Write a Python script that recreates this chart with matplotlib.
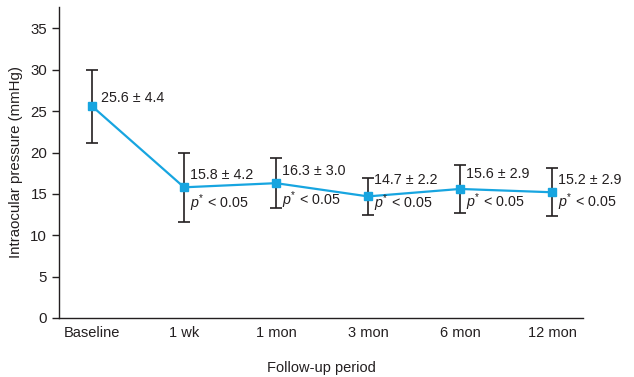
import matplotlib
matplotlib.use("Agg")
import matplotlib.pyplot as plt

plt.rcParams['font.family'] = ['Liberation Sans', 'DejaVu Sans']
plt.rcParams['mathtext.fontset'] = 'custom'
plt.rcParams['mathtext.it'] = 'Liberation Sans:italic'
plt.rcParams['mathtext.rm'] = 'Liberation Sans'

categories = ["Baseline", "1 wk", "1 mon", "3 mon", "6 mon", "12 mon"]
means = [25.6, 15.8, 16.3, 14.7, 15.6, 15.2]
sds = [4.4, 4.2, 3.0, 2.2, 2.9, 2.9]
show_p = [False, True, True, True, True, True]
p_text = r"$p^{*}$ < 0.05"

line_color = "#17a5e0"
err_color = "#231f20"

fig = plt.figure(figsize=(6.34, 3.77), dpi=100)
ax = fig.add_axes([0.093, 0.1565, 0.827, 0.825])

x = list(range(len(categories)))
ax.errorbar(x, means, yerr=sds, fmt='none', ecolor=err_color, elinewidth=1.2,
            capsize=4, capthick=1.2, zorder=2)
ax.plot(x, means, color=line_color, lw=1.6, marker='s', markersize=6,
        markerfacecolor=line_color, markeredgecolor=line_color, zorder=3)

mean_y = [26.6, 17.3, 17.8, 16.7, 17.4, 16.7]
p_y = [None, 13.9, 14.2, 13.9, 14.0, 14.0]
dx = [0.1, 0.06, 0.06, 0.06, 0.06, 0.06]
for i in x:
    ax.text(i + dx[i], mean_y[i], f"{means[i]} ± {sds[i]}", fontsize=10.3,
            va='center', ha='left', color='#231f20')
    if show_p[i]:
        ax.text(i + dx[i], p_y[i], p_text, fontsize=10.3, va='center', ha='left',
                color='#231f20')

ax.set_xlim(-0.36, 5.34)
ax.set_ylim(0, 37.6)
ax.set_yticks(range(0, 36, 5))
ax.set_xticks(x)
ax.set_xticklabels(categories)
ax.tick_params(axis='x', length=0, labelsize=10.5, pad=6, colors='#231f20')
ax.tick_params(axis='y', length=5, width=1, labelsize=10.8, colors='#231f20')
for s in ['top', 'right']:
    ax.spines[s].set_visible(False)
for s in ['left', 'bottom']:
    ax.spines[s].set_color('#231f20')
    ax.spines[s].set_linewidth(1)

ax.set_ylabel("Intraocular pressure (mmHg)", fontsize=10.8, color='#231f20', labelpad=5)
ax.set_xlabel("Follow-up period", fontsize=10.5, color='#231f20', labelpad=15)

fig.savefig("out.png", dpi=100)
